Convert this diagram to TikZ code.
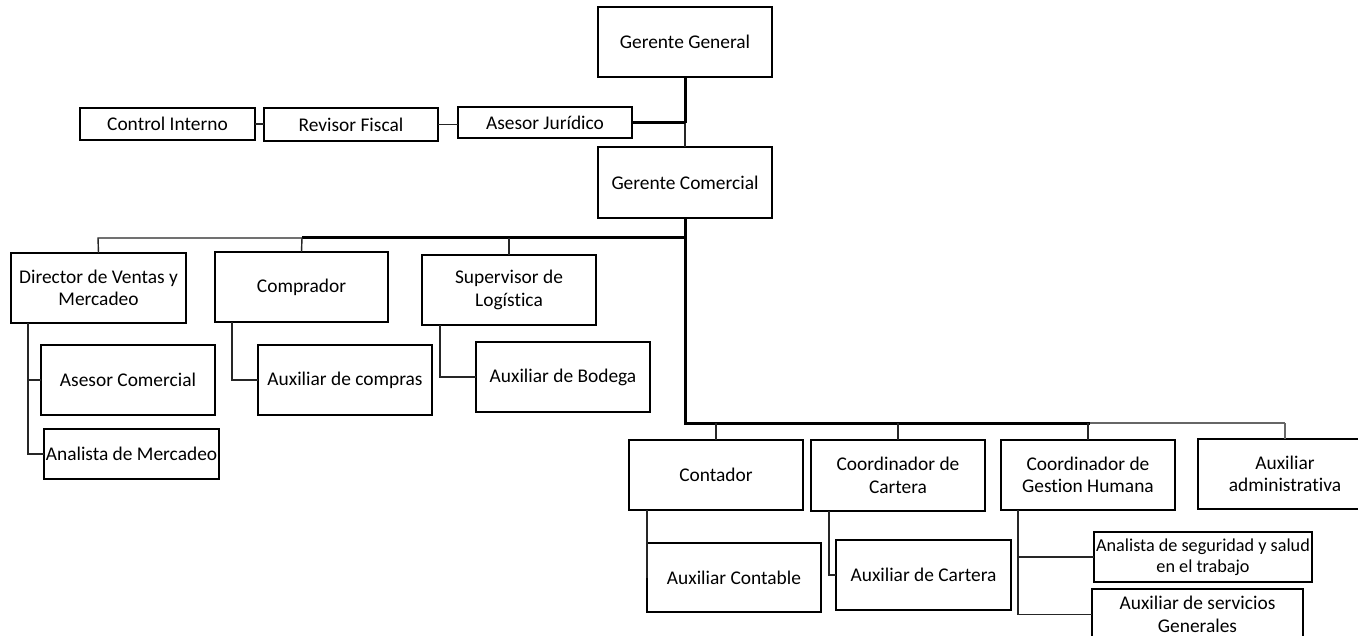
\documentclass[tikz,border=0pt]{standalone}
\usepackage{fontspec}
\setmainfont{Carlito}[Ligatures=NoCommon]
\begin{document}
\begin{tikzpicture}[x=1pt,y=1pt,
  box/.style={draw=black, line width=1.4pt, inner sep=2pt, outer sep=0pt, align=center,
    font=\fontsize{19.4}{22.5}\selectfont, text=black},
  thinln/.style={line width=1.4pt, draw=black!85},
  thickln/.style={line width=3pt, draw=black}]
\clip (0,0) rectangle (1358,-636);
\fill[white] (0,0) rectangle (1358,-636);
% top
\node[box, minimum width=174pt, minimum height=70pt] (gg) at (685,-42) {Gerente General};
\node[box, minimum width=175pt, minimum height=32pt] (ci) at (167.5,-124) {Control Interno};
\node[box, minimum width=174pt, minimum height=33pt] (rf) at (351,-124.5) {Revisor Fiscal};
\node[box, minimum width=174pt, minimum height=31pt] (aj) at (545,-122.5) {Asesor Jurídico};
\node[box, minimum width=174pt, minimum height=71pt] (gc) at (685,-182.5) {Gerente Comercial};
% second level
\node[box, minimum width=175pt, minimum height=70pt] (dv) at (98.5,-288) {Director de Ventas y\\Mercadeo};
\node[box, minimum width=173pt, minimum height=70pt] (co) at (301.5,-287) {Comprador};
\node[box, minimum width=174pt, minimum height=70pt] (sl) at (509,-290) {Supervisor de\\Logística};
\node[box, minimum width=174pt, minimum height=70pt] (ac) at (128,-380) {Asesor Comercial};
\node[box, minimum width=175pt, minimum height=50pt] (am) at (131.5,-454) {Analista de Mercadeo};
\node[box, minimum width=174pt, minimum height=70pt] (ax) at (345,-380) {Auxiliar de compras};
\node[box, minimum width=174pt, minimum height=70pt] (ab) at (563,-377) {Auxiliar de Bodega};
% lower right
\node[box, minimum width=174pt, minimum height=70pt] (ct) at (716,-475) {Contador};
\node[box, minimum width=174pt, minimum height=71pt] (cc) at (898,-475.5) {Coordinador de\\Cartera};
\node[box, minimum width=174pt, minimum height=70pt] (gh) at (1088,-475) {Coordinador de\\Gestion Humana};
\node[box, minimum width=174pt, minimum height=70pt] (ad) at (1285,-474) {Auxiliar\\administrativa};
\node[box, minimum width=174pt, minimum height=69pt] (axc) at (734,-577.5) {Auxiliar Contable};
\node[box, minimum width=175pt, minimum height=70pt] (acar) at (923.5,-575) {Auxiliar de Cartera};
\node[box, minimum width=218pt, minimum height=50pt, font=\fontsize{18.2}{21}\selectfont] (as) at (1203,-557) {Analista de seguridad y salud\\en el trabajo};
\node[box, minimum width=211pt, minimum height=51pt] (asg) at (1197.5,-614.5) {Auxiliar de servicios\\Generales};
% junctions
\coordinate (j1) at (685,-123);
\coordinate (j2) at (685,-238);
\coordinate (b1) at (302,-238);
\coordinate (b0) at (98,-238);
\coordinate (b2) at (509,-238);
\coordinate (j3) at (685,-423);
\coordinate (c1) at (1090,-423);
\coordinate (c2) at (1285,-423);
% top connectors
\draw[thickln] (gg.south) -- (j1);
\draw[thinln] (j1) -- (gc.north);
\draw[thickln] (aj.east |- j1) -- (j1);
\draw[thinln] (ci.east) -- (ci.east -| rf.west);
\draw[thinln] (rf.east) -- (rf.east -| aj.west);
% commercial bus
\draw[thickln] (gc.south) -- (j2) -- (b1);
\draw[thinln] (b1) -- (b0) -- (dv.north);
\draw[thinln] (b1) -- (co.north);
\draw[thinln] (b2) -- (sl.north);
\draw[thickln] (j2) -- (j3) -- (c1);
\draw[thinln, draw=black!60] (c1) -- (c2) -- (ad.north |- c2);
\draw[thinln] (ct.north |- j3) -- (ct.north);
\draw[thinln] (cc.north |- j3) -- (cc.north);
\draw[thinln] (gh.north |- j3) -- (gh.north);
\draw[thinln, draw=black!60] (c2) -- (ad.north);
% children
\coordinate (dvl) at (28,-323);
\draw[thinln] (dvl) |- (am.west);
\draw[thinln] (dvl |- ac.west) -- (ac.west);
\coordinate (col) at (232,-322);
\draw[thinln] (col) |- (ax.west);
\coordinate (sll) at (440,-325);
\draw[thinln] (sll) |- (ab.west);
\coordinate (ctl) at (647,-510);
\draw[thinln] (ctl) -- (ctl |- axc.west);
\coordinate (ccl) at (829,-511);
\draw[thinln] (ccl) |- (acar.west);
\coordinate (ghl) at (1018,-510);
\draw[thinln] (ghl) |- (asg.west);
\draw[thinln] (ghl |- as.west) -- (as.west);
\end{tikzpicture}
\end{document}
